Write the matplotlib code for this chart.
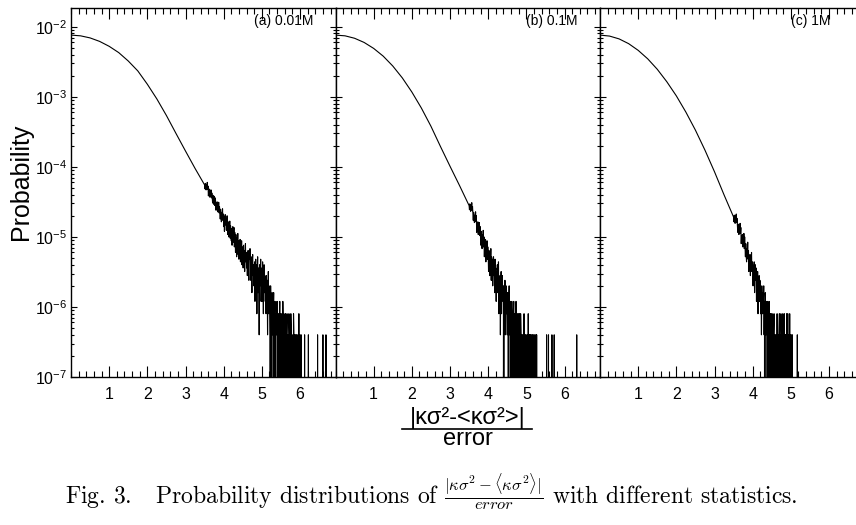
import numpy as np
import matplotlib
matplotlib.use("Agg")
import matplotlib.pyplot as plt
from matplotlib.ticker import LogLocator, NullFormatter, MultipleLocator
from matplotlib.lines import Line2D

plt.rcParams['font.family'] = ['Liberation Sans', 'DejaVu Sans']
plt.rcParams['axes.unicode_minus'] = False

# smooth part of the distributions, read every 0.25
head_x = [0.0, 0.25, 0.5, 0.75, 1.0, 1.25, 1.5, 1.75, 2.0, 2.25, 2.5, 2.75, 3.0, 3.25]
head_a = [7.59e-3, 7.41e-3, 6.92e-3, 6.17e-3, 5.25e-3, 4.27e-3, 3.24e-3, 2.34e-3,
          1.51e-3, 9.3e-4, 5.4e-4, 3.0e-4, 1.68e-4, 9.5e-5]
head_b = [7.59e-3, 7.41e-3, 6.84e-3, 5.96e-3, 4.90e-3, 3.80e-3, 2.75e-3, 1.86e-3,
          1.17e-3, 6.9e-4, 3.8e-4, 1.95e-4, 1.02e-4, 5.4e-5]
head_c = [7.59e-3, 7.35e-3, 6.70e-3, 5.73e-3, 4.60e-3, 3.48e-3, 2.47e-3, 1.64e-3,
          1.03e-3, 6.04e-4, 3.34e-4, 1.73e-4, 8.5e-5, 3.98e-5]

# noisy tail: entries per bin (bin width 0.01, first bin at 3.50), one row = 0.1
TAIL_START = 3.5
BIN = 0.01
PER_COUNT = 4e-7  # probability of one entry

tail_a = [138, 121, 145, 126, 117, 140, 129, 150, 119, 133,
          96, 115, 101, 120, 92, 108, 99, 117, 90, 106,
          92, 76, 98, 81, 73, 95, 84, 70, 90, 79,
          60, 75, 64, 79, 57, 70, 62, 78, 55, 68,
          58, 45, 62, 49, 41, 56, 47, 63, 43, 53,
          35, 49, 30, 44, 52, 37, 46, 31, 40, 50,
          39, 27, 41, 25, 35, 29, 42, 24, 36, 31,
          22, 33, 19, 30, 35, 21, 28, 34, 18, 29,
          25, 15, 27, 18, 13, 24, 20, 28, 14, 22,
          12, 21, 15, 23, 11, 19, 14, 22, 10, 18,
          17, 9, 19, 12, 16, 8, 15, 20, 11, 14,
          9, 15, 7, 13, 16, 10, 6, 14, 12, 17,
          12, 6, 13, 8, 4, 11, 14, 7, 10, 5,
          6, 11, 3, 9, 12, 5, 10, 2, 8, 13,
          4, 9, 7, 1, 10, 5, 8, 12, 3, 6,
          9, 3, 11, 6, 2, 8, 10, 4, 7, 3,
          5, 2, 7, 3, 6, 1, 4, 8, 2, 5,
          4, 1, 0, 5, 2, 3, 0, 4, 1, 3,
          2, 4, 0, 3, 1, 2, 0, 3, 2, 1,
          1, 3, 0, 2, 2, 0, 1, 3, 0, 2,
          2, 0, 1, 2, 0, 3, 1, 0, 2, 1,
          1, 0, 2, 1, 0, 1, 2, 0, 1, 1,
          0, 2, 1, 0, 1, 0, 2, 1, 0, 1,
          1, 0, 0, 2, 1, 0, 1, 0, 1, 1,
          0, 1, 1, 0, 0, 1, 0, 2, 0, 1,
          1, 0, 0, 1, 0, 0, 0, 0, 0, 0]
lone_a = [6.12, 6.22, 6.46, 6.60, 6.68]   # isolated single-entry bins

tail_b = [70, 61, 74, 63, 58, 72, 65, 77, 59, 68,
          53, 43, 56, 45, 40, 51, 47, 57, 41, 50,
          29, 39, 31, 41, 27, 36, 30, 40, 26, 35,
          28, 19, 30, 21, 17, 27, 22, 31, 18, 25,
          13, 21, 15, 23, 11, 19, 14, 22, 12, 18,
          15, 8, 16, 10, 7, 14, 11, 17, 6, 13,
          6, 12, 5, 11, 13, 7, 10, 4, 12, 8,
          9, 3, 8, 5, 10, 4, 7, 11, 2, 6,
          3, 7, 1, 6, 8, 2, 5, 7, 4, 3,
          5, 0, 4, 2, 6, 1, 3, 5, 2, 4,
          1, 4, 2, 0, 3, 5, 1, 2, 3, 0,
          2, 0, 3, 1, 2, 0, 2, 3, 1, 2,
          0, 2, 1, 3, 0, 1, 2, 0, 1, 2,
          1, 0, 2, 1, 0, 2, 1, 0, 1, 1,
          0, 1, 1, 0, 2, 0, 1, 0, 1, 1,
          1, 0, 0, 1, 0, 2, 0, 1, 0, 1,
          0, 1, 0, 0, 1, 0, 1, 0, 0, 1]
lone_b = [5.22, 5.25, 5.27, 5.53, 5.58, 5.67, 5.73, 6.32]

tail_c = [48, 41, 51, 43, 39, 50, 44, 53, 40, 46,
          36, 29, 38, 31, 27, 35, 30, 39, 28, 34,
          20, 26, 21, 27, 18, 24, 19, 28, 17, 25,
          18, 13, 20, 14, 11, 17, 15, 21, 12, 16,
          8, 13, 9, 14, 7, 12, 10, 15, 8, 11,
          10, 5, 9, 6, 11, 4, 8, 10, 6, 9,
          3, 7, 4, 8, 2, 6, 5, 7, 3, 6,
          5, 2, 4, 1, 5, 3, 2, 4, 3, 5,
          1, 3, 0, 4, 2, 1, 3, 2, 0, 3,
          2, 0, 1, 3, 1, 0, 2, 1, 2, 0,
          1, 2, 0, 1, 0, 1, 2, 0, 1, 1,
          0, 1, 1, 0, 2, 0, 1, 1, 0, 1,
          2, 0, 1, 0, 2, 1, 0, 1, 0, 2,
          0, 1, 0, 2, 0, 1, 0, 1, 0, 2,
          1, 0, 2, 0, 0, 1, 0, 2, 0, 1,
          0, 1, 0, 0, 1, 0, 0, 0, 0, 0]
lone_c = [5.17]

panel_labels = ['(a) 0.01M', '(b) 0.1M', '(c) 1M']
label_x = [0.915, 0.915, 0.87]
heads = [head_a, head_b, head_c]
tails = [tail_a, tail_b, tail_c]
lones = [lone_a, lone_b, lone_c]


def tail_counts(dense, lone):
    n = max(len(dense), int(round((max(lone) - TAIL_START) / BIN)) + 1) + 1
    counts = np.zeros(n)
    counts[:len(dense)] = dense
    for s in lone:
        counts[int(round((s - TAIL_START) / BIN))] = 1
    return counts


fig = plt.figure(figsize=(8.56, 5.25), dpi=100)

W, H = 856.0, 525.0
left_px = [71, 335.5, 600]
panel_w = 264.5
bottom = (H - 377) / H
height = (377 - 8) / H

for i in range(3):
    ax = fig.add_axes([left_px[i] / W, bottom, panel_w / W, height])
    counts = tail_counts(tails[i], lones[i])
    tx = TAIL_START + BIN * np.arange(len(counts))
    x = np.concatenate([head_x, tx])
    y = np.concatenate([heads[i], counts * PER_COUNT])
    ax.plot(x, y, color='black', lw=0.8)
    ax.set_yscale('log', nonpositive='clip')
    ax.set_xlim(0, 6.93)
    ax.set_ylim(1e-7, 10 ** -1.733)

    ax.set_xticks([1, 2, 3, 4, 5, 6])
    ax.xaxis.set_minor_locator(MultipleLocator(0.2))
    ax.yaxis.set_major_locator(LogLocator(base=10, numticks=20))
    ax.yaxis.set_minor_locator(LogLocator(base=10, subs=np.arange(2, 10), numticks=20))
    ax.yaxis.set_minor_formatter(NullFormatter())

    ax.tick_params(axis='x', which='major', direction='in', length=8, width=0.8,
                   top=True, pad=7, labelsize=11.5)
    ax.tick_params(axis='x', which='minor', direction='in', length=4, width=0.8, top=True)
    ax.tick_params(axis='y', which='major', direction='in', length=4, width=0.8,
                   right=True, pad=3, labelsize=11.5)
    ax.tick_params(axis='y', which='minor', direction='in', length=2, width=0.8, right=True)
    for s in ax.spines.values():
        s.set_linewidth(1.0)

    if i == 0:
        ax.set_ylabel('Probability', fontsize=18)
        ax.yaxis.set_label_coords(-0.145, 0.53)
    else:
        ax.tick_params(axis='y', labelleft=False)

    ax.text(label_x[i], 0.965, panel_labels[i], transform=ax.transAxes,
            ha='right', va='center', fontsize=10)

# x label drawn as a fraction under the middle panel
cx = (335.5 + panel_w / 2) / W
fig.text(cx, (H - 418) / H, '|κσ²-<κσ²>|', ha='center', va='center', fontsize=17)
fig.add_artist(Line2D([402 / W, 532 / W], [(H - 429) / H] * 2, color='black', lw=1.2))
fig.text(cx, (H - 439) / H, 'error', ha='center', va='center', fontsize=17)

fig.text(0.504, (H - 492) / H,
         r'Fig. 3.   Probability distributions of '
         r'$\frac{|\kappa\sigma^2-\langle\kappa\sigma^2\rangle|}{error}$'
         r' with different statistics.',
         ha='center', va='center', fontsize=17, family='cmr10', math_fontfamily='cm')

fig.savefig('out.png', dpi=100)
